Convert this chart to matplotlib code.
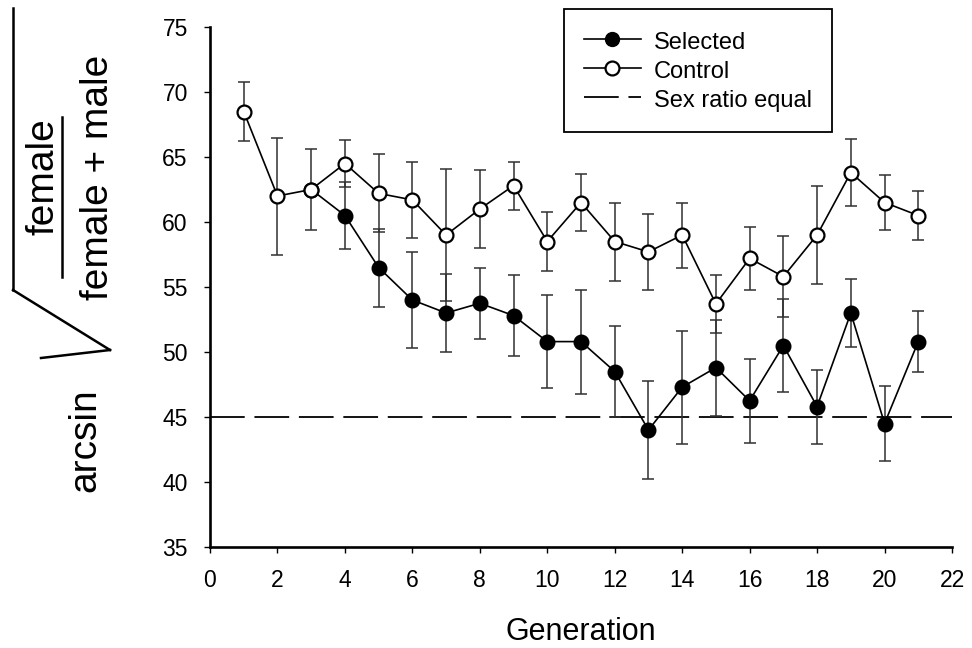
import matplotlib
matplotlib.use("Agg")
import matplotlib.pyplot as plt
from matplotlib.lines import Line2D
import numpy as np

plt.rcParams['font.family'] = ['Liberation Sans', 'DejaVu Sans']
plt.rcParams['lines.scale_dashes'] = False

# ---- data ----
generations = list(range(1, 22))
control = [68.5, 62.0, 62.5, 64.5, 62.2, 61.7, 59.0, 61.0, 62.8, 58.5, 61.5,
           58.5, 57.7, 59.0, 53.7, 57.2, 55.8, 59.0, 63.8, 61.5, 60.5]
control_err = [2.25, 4.5, 3.1, 1.8, 3.0, 2.9, 5.1, 3.0, 1.85, 2.25, 2.2,
               3.0, 2.95, 2.5, 2.25, 2.4, 3.1, 3.75, 2.6, 2.1, 1.9]
sel_generations = list(range(3, 22))
selected = [62.5, 60.5, 56.5, 54.0, 53.0, 53.75, 52.8, 50.8, 50.8, 48.5, 44.0,
            47.3, 48.8, 46.25, 50.5, 45.8, 53.0, 44.5, 50.8]
selected_err = [0.0, 2.6, 3.0, 3.7, 3.0, 2.75, 3.1, 3.6, 4.0, 3.5, 3.75,
                4.35, 3.7, 3.25, 3.6, 2.85, 2.6, 2.85, 2.35]
equal_ratio = 45
x_ticks = list(range(0, 23, 2))
y_ticks = list(range(35, 76, 5))

W, H = 972, 648
fig = plt.figure(figsize=(W / 100, H / 100), dpi=100)
ax = fig.add_axes([210 / W, 1 - 547 / H, 742 / W, 520 / H])

ebc = '#303030'
# selected
ax.errorbar(sel_generations[1:], selected[1:], yerr=selected_err[1:], fmt='none',
            ecolor=ebc, elinewidth=1.1, capsize=4.3, capthick=1.1, zorder=2)
ax.plot(sel_generations, selected, color='black', lw=1.2, marker='o', ms=10,
        mfc='black', mec='black', mew=1.5, zorder=3)
# control
ax.errorbar(generations, control, yerr=control_err, fmt='none',
            ecolor=ebc, elinewidth=1.1, capsize=4.3, capthick=1.1, zorder=2)
ax.plot(generations, control, color='black', lw=1.2, marker='o', ms=10,
        mfc='white', mec='black', mew=1.6, zorder=4)
# equal sex ratio
ax.axhline(equal_ratio, color='black', lw=1.3, dashes=(25, 7), zorder=1)

ax.set_xlim(0, 22)
ax.set_ylim(35, 75)
ax.set_xticks(x_ticks)
ax.set_yticks(y_ticks)
for s in ['top', 'right']:
    ax.spines[s].set_visible(False)
for s in ['left', 'bottom']:
    ax.spines[s].set_linewidth(1.9)
ax.tick_params(direction='out', length=4, width=1.0, labelsize=16.5, pad=12)
ax.set_xlabel('Generation', fontsize=22, labelpad=18)

handles = [
    Line2D([], [], color='black', lw=1.2, marker='o', ms=10, mfc='black', mec='black'),
    Line2D([], [], color='black', lw=1.2, marker='o', ms=10, mfc='white', mec='black', mew=1.6),
    Line2D([], [], color='black', lw=1.3, dashes=(25, 7)),
]
leg = ax.legend(handles, ['Selected', 'Control', 'Sex ratio equal'],
                loc='upper left', bbox_to_anchor=(0.477, 1.035), fontsize=17,
                frameon=True, fancybox=False, framealpha=1, edgecolor='black',
                handlelength=2.4, handletextpad=0.55, labelspacing=0.15,
                handleheight=1.25, borderpad=0.85, borderaxespad=0)
leg.get_frame().set_linewidth(1.3)

# y-axis label: arcsin sqrt(female / (female + male)) drawn as rotated text and lines
def px(x, y):
    return x / W, 1 - y / H

tkw = dict(rotation=90, rotation_mode='anchor', ha='center', va='baseline',
           fontsize=28, transform=fig.transFigure)
fig.text(*px(53, 177), 'female', **tkw)
fig.text(*px(108, 177), 'female + male', **tkw)
fig.text(*px(95, 440), 'arcsin', **tkw)

def seg(p0, p1, lw=1.8):
    a, b = px(*p0), px(*p1)
    fig.add_artist(Line2D([a[0], b[0]], [a[1], b[1]],
                          transform=fig.transFigure, color='black', lw=lw,
                          solid_capstyle='projecting', clip_on=False))

seg((62, 117), (62, 277))          # fraction bar
seg((13, 8), (13, 290))            # radical overbar (rotated)
seg((13, 290), (110, 350))         # radical long stroke
seg((110, 350), (41, 358))         # radical short stroke

fig.savefig('out.png', dpi=100)
